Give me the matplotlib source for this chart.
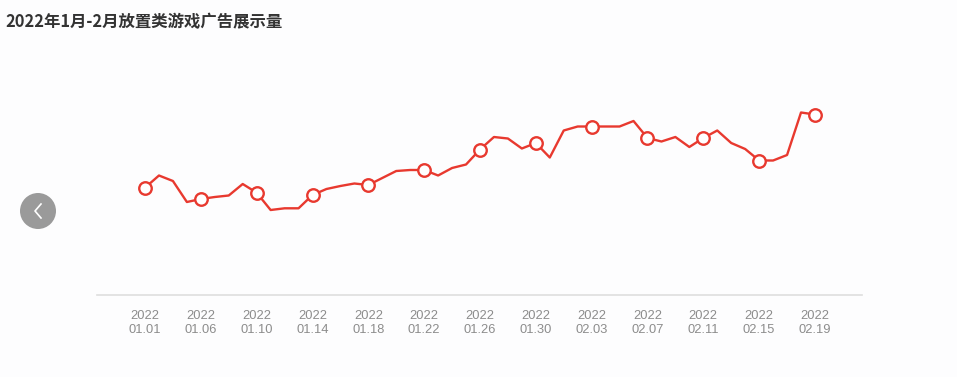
import matplotlib
matplotlib.use("Agg")

import matplotlib.pyplot as plt
from matplotlib.lines import Line2D
from matplotlib.patches import Ellipse

plt.rcParams["font.family"] = ["Noto Sans CJK SC", "DejaVu Sans"]

# ---------------------------------------------------------------------------
# Data (y axis is unlabeled, values in relative units)
# ---------------------------------------------------------------------------
TITLE = "2022年1月-2月放置类游戏广告展示量"
YEAR = "2022"

dates = [
    "01.01", "01.03", "01.04", "01.05", "01.06", "01.07", "01.08", "01.09",
    "01.10", "01.11", "01.12", "01.13", "01.14", "01.15", "01.16", "01.17",
    "01.18", "01.19", "01.20", "01.21", "01.22", "01.23", "01.24", "01.25",
    "01.26", "01.27", "01.28", "01.29", "01.30", "01.31", "02.01", "02.02",
    "02.03", "02.04", "02.05", "02.06", "02.07", "02.08", "02.09", "02.10",
    "02.11", "02.12", "02.13", "02.14", "02.15", "02.16", "02.17", "02.18",
    "02.19",
]

impressions = [
    107.3, 119.5, 114.0, 93.0, 96.0, 98.0, 99.5, 111.0,
    102.3, 85.0, 86.7, 86.7, 100.0, 106.0, 109.0, 111.5,
    110.0, 117.0, 124.0, 125.0, 125.0, 119.5, 127.0, 130.5,
    145.5, 158.0, 156.5, 146.5, 152.0, 137.5, 164.5, 168.5,
    168.5, 168.5, 168.5, 174.0, 157.0, 153.5, 158.0, 148.0,
    157.0, 164.5, 152.0, 146.0, 134.5, 134.5, 140.0, 182.5,
    180.5,
]

LABEL_STEP = 4

# ---------------------------------------------------------------------------
# Figure
# ---------------------------------------------------------------------------
W, H = 957, 377
BG = "#fdfdfe"
fig = plt.figure(figsize=(W / 100, H / 100), dpi=100)
fig.patch.set_facecolor(BG)

# plot area in pixel terms: x 97..862, y 55..295 (from top)
ax = fig.add_axes([97 / W, 1 - 295 / H, 765 / W, 240 / H])
ax.set_facecolor(BG)

x = list(range(len(dates)))
ax.plot(
    x, impressions,
    color="#e8392f", linewidth=1.7,
    marker="o", markevery=LABEL_STEP, markersize=9,
    markerfacecolor="white", markeredgecolor="#e8392f", markeredgewidth=1.7,
    solid_joinstyle="round", zorder=3,
)

ax.set_xlim(-3.44, len(dates) - 1 + 3.37)
ax.set_ylim(0, 240)

tick_pos = x[::LABEL_STEP]
ax.set_xticks(tick_pos)
ax.set_xticklabels([f"{YEAR}\n{dates[i]}" for i in tick_pos],
                   fontsize=9.3, color="#8c8c8c", linespacing=1.3,
                   family=["Liberation Sans", "DejaVu Sans"])
ax.tick_params(axis="x", length=0, pad=10.5)
ax.set_yticks([])

for side in ("top", "right", "left"):
    ax.spines[side].set_visible(False)
ax.spines["bottom"].set_color("#dedede")
ax.spines["bottom"].set_linewidth(1.2)

# title
fig.text(5 / W, 1 - 22 / H, TITLE, fontsize=11.8, fontweight="bold",
         color="#333333", ha="left", va="center")

# left navigation button
cx, cy, r = 38, 211, 18
fig.add_artist(Ellipse((cx / W, 1 - cy / H), 2 * r / W, 2 * r / H,
                       transform=fig.transFigure, facecolor="#9a9a9a",
                       edgecolor="none"))
fig.add_artist(Line2D([41 / W, 35 / W, 41 / W],
                      [1 - 204 / H, 1 - 211 / H, 1 - 218 / H],
                      transform=fig.transFigure, color="white", linewidth=1.2))

fig.savefig("out.png", dpi=100, facecolor=BG)
